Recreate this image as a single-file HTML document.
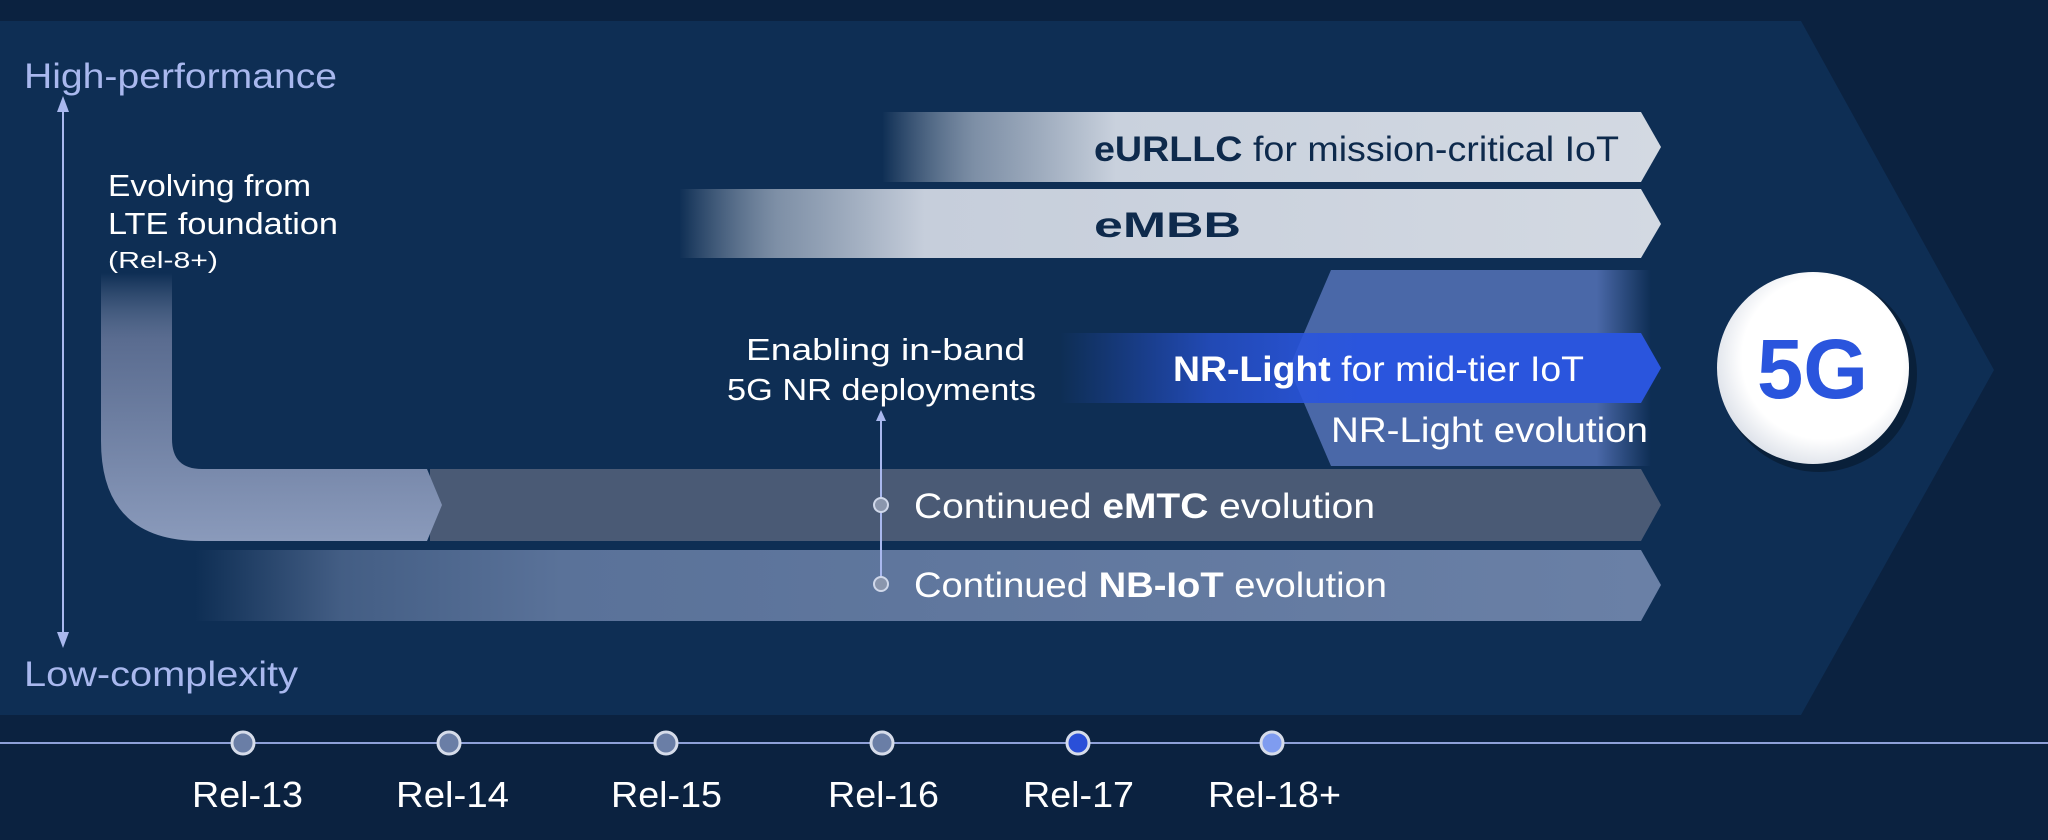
<!DOCTYPE html>
<html><head><meta charset="utf-8"><style>
html,body{margin:0;padding:0;background:#0b2240;}
svg{display:block;font-family:"Liberation Sans",sans-serif;}
</style></head><body>
<svg width="2048" height="840" viewBox="0 0 2048 840" xmlns="http://www.w3.org/2000/svg">
<defs>
<linearGradient id="gUR" x1="0" x2="1"><stop offset="0" stop-color="#c9d1dd" stop-opacity="0"/><stop offset="0.12" stop-color="#9aa8bb" stop-opacity="0.8"/><stop offset="0.3" stop-color="#c9d1dd"/><stop offset="1" stop-color="#d3d9e2"/></linearGradient>
<linearGradient id="gMB" x1="0" x2="1"><stop offset="0" stop-color="#c9d1dd" stop-opacity="0"/><stop offset="0.1" stop-color="#9aa8bb" stop-opacity="0.8"/><stop offset="0.25" stop-color="#c6cedb"/><stop offset="1" stop-color="#d3d9e2"/></linearGradient>
<linearGradient id="gNRL" x1="0" x2="1"><stop offset="0" stop-color="#2a55dd" stop-opacity="0"/><stop offset="0.25" stop-color="#2a55dd" stop-opacity="0.7"/><stop offset="0.5" stop-color="#2a55dd"/><stop offset="1" stop-color="#2a55dd"/></linearGradient>
<linearGradient id="gEvo" x1="0" x2="1"><stop offset="0" stop-color="#4a68a8"/><stop offset="0.85" stop-color="#4a68a8"/><stop offset="1" stop-color="#4a68a8" stop-opacity="0"/></linearGradient>
<linearGradient id="gNB" x1="0" x2="1"><stop offset="0" stop-color="#5a7299" stop-opacity="0"/><stop offset="0.1" stop-color="#5a7299" stop-opacity="0.7"/><stop offset="0.25" stop-color="#5a7299"/><stop offset="1" stop-color="#6a80a6"/></linearGradient>
<linearGradient id="gElb" x1="0" y1="0" x2="0" y2="1"><stop offset="0" stop-color="#8090b0" stop-opacity="0"/><stop offset="0.25" stop-color="#5a6c90"/><stop offset="1" stop-color="#8a9abb"/></linearGradient>
<radialGradient id="g5" cx="0.55" cy="0.45" r="0.6"><stop offset="0.7" stop-color="#ffffff"/><stop offset="1" stop-color="#d8dde6"/></radialGradient>
</defs>
<rect width="2048" height="840" fill="#0b2240"/>
<polygon points="0,21 1801,21 1994,370 1801,715 0,715" fill="#0e2e54"/>
<polygon points="882,112 1641,112 1661,147 1641,182 882,182" fill="url(#gUR)"/>
<polygon points="679,189 1641,189 1661,224 1641,258 679,258" fill="url(#gMB)"/>
<polygon points="1331,270 1651,270 1651,466 1331,466 1289,368" fill="url(#gEvo)"/>
<polygon points="1060,333 1641,333 1661,368 1641,403 1060,403" fill="url(#gNRL)"/>
<polygon points="430,469 1641,469 1661,505 1641,541 430,541" fill="#4a5a75"/>
<polygon points="195,550 1641,550 1661,585 1641,621 195,621" fill="url(#gNB)"/>
<path d="M101,273 L172,273 L172,439 Q172,469 202,469 L427,469 L442,505 L427,541 L201,541 Q101,541 101,441 Z" fill="url(#gElb)"/>
<line x1="63" y1="110" x2="63" y2="635" stroke="#a9b8ee" stroke-width="2"/>
<polygon points="63,96 57,112 69,112" fill="#a9b8ee"/>
<polygon points="63,648 57,632 69,632" fill="#a9b8ee"/>
<g lengthAdjust="spacingAndGlyphs">
<text x="24" y="88" font-size="35" fill="#a9b8ee" textLength="313" lengthAdjust="spacingAndGlyphs">High-performance</text>
<text x="24" y="686" font-size="35" fill="#a9b8ee" textLength="274" lengthAdjust="spacingAndGlyphs">Low-complexity</text>
<text x="108" y="196" font-size="31" fill="#fff" textLength="203" lengthAdjust="spacingAndGlyphs">Evolving from</text>
<text x="108" y="234" font-size="31" fill="#fff" textLength="230" lengthAdjust="spacingAndGlyphs">LTE foundation</text>
<text x="108" y="268" font-size="23" fill="#fff" textLength="110" lengthAdjust="spacingAndGlyphs">(Rel-8+)</text>
</g>
<line x1="881" y1="420" x2="881" y2="584" stroke="#a9b8ee" stroke-width="2"/>
<polygon points="881,410 876,421 886,421" fill="#a9b8ee"/>
<circle cx="881" cy="505" r="7" fill="#8a96ad" stroke="#d0d8ea" stroke-width="2"/>
<circle cx="881" cy="584" r="7" fill="#8a96ad" stroke="#d0d8ea" stroke-width="2"/>
<text x="746" y="360" font-size="31" fill="#fff" textLength="279" lengthAdjust="spacingAndGlyphs">Enabling in-band</text>
<text x="727" y="400" font-size="31" fill="#fff" textLength="309" lengthAdjust="spacingAndGlyphs">5G NR deployments</text>
<text x="1094" y="161" font-size="35" fill="#0e2a4c" textLength="525" lengthAdjust="spacingAndGlyphs"><tspan font-weight="bold">eURLLC</tspan> for mission-critical IoT</text>
<text x="1094" y="237" font-size="35" fill="#0e2a4c" font-weight="bold" textLength="147" lengthAdjust="spacingAndGlyphs">eMBB</text>
<text x="1173" y="381" font-size="35" fill="#fff" textLength="411" lengthAdjust="spacingAndGlyphs"><tspan font-weight="bold">NR-Light</tspan> for mid-tier IoT</text>
<text x="1331" y="442" font-size="35" fill="#fff" textLength="317" lengthAdjust="spacingAndGlyphs">NR-Light evolution</text>
<text x="914" y="518" font-size="35" fill="#fff" textLength="461" lengthAdjust="spacingAndGlyphs">Continued <tspan font-weight="bold">eMTC</tspan> evolution</text>
<text x="914" y="597" font-size="35" fill="#fff" textLength="473" lengthAdjust="spacingAndGlyphs">Continued <tspan font-weight="bold">NB-IoT</tspan> evolution</text>
<circle cx="1819" cy="374" r="98" fill="#000" opacity="0.3"/>
<circle cx="1813" cy="368" r="96" fill="url(#g5)"/>
<text x="1757" y="398" font-size="84" font-weight="bold" fill="#2a55dd" textLength="111" lengthAdjust="spacingAndGlyphs">5G</text>
<line x1="0" y1="743" x2="2048" y2="743" stroke="#8ea0d8" stroke-width="2"/>
<g stroke="#d6dcea" stroke-width="3">
<circle cx="243" cy="743" r="11" fill="#6a7ea6"/>
<circle cx="449" cy="743" r="11" fill="#6a7ea6"/>
<circle cx="666" cy="743" r="11" fill="#6a7ea6"/>
<circle cx="882" cy="743" r="11" fill="#6a7ea6"/>
<circle cx="1078" cy="743" r="11" fill="#2a4fd8"/>
<circle cx="1272" cy="743" r="11" fill="#7f9cf0"/>
</g>
<g font-size="36" fill="#fff">
<text x="192" y="807" textLength="111" lengthAdjust="spacingAndGlyphs">Rel-13</text>
<text x="396" y="807" textLength="113" lengthAdjust="spacingAndGlyphs">Rel-14</text>
<text x="611" y="807" textLength="111" lengthAdjust="spacingAndGlyphs">Rel-15</text>
<text x="828" y="807" textLength="111" lengthAdjust="spacingAndGlyphs">Rel-16</text>
<text x="1023" y="807" textLength="111" lengthAdjust="spacingAndGlyphs">Rel-17</text>
<text x="1208" y="807" textLength="133" lengthAdjust="spacingAndGlyphs">Rel-18+</text>
</g>
</svg>
</body></html>
